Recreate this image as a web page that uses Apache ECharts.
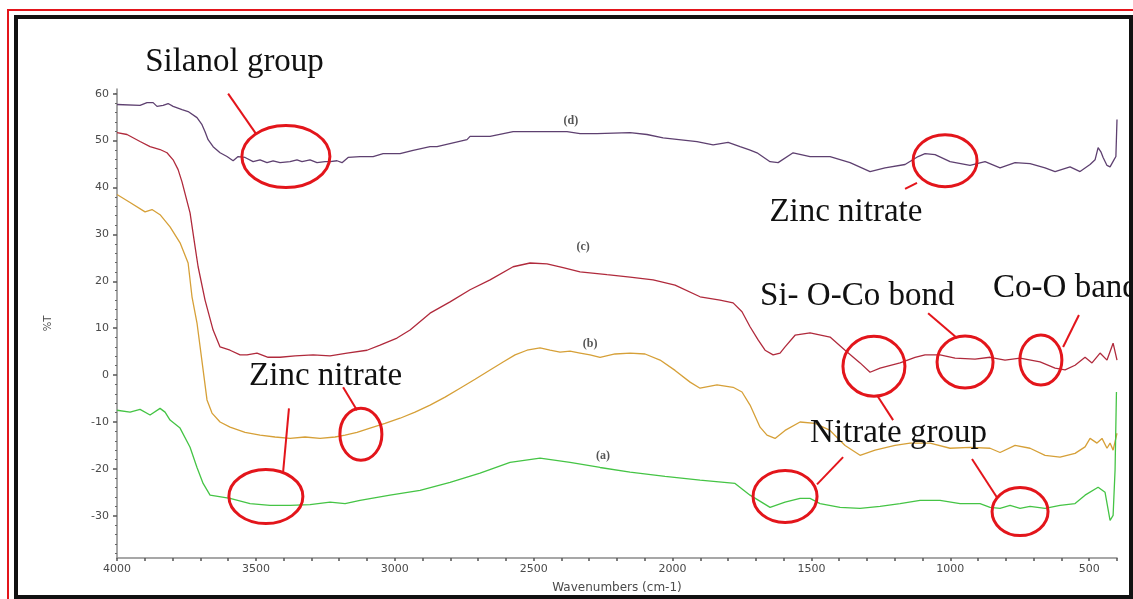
<!DOCTYPE html>
<html>
<head>
<meta charset="utf-8">
<title>FTIR spectra (a)–(d)</title>
<script src="https://cdn.jsdelivr.net/npm/echarts@6/dist/echarts.min.js"></script>
<style>
  html, body { margin: 0; padding: 0; background: #fff; }
  #chart { width: 1133px; height: 599px; }
</style>
</head>
<body>
<div id="chart"></div>
<script>
// ---- Spectra: wavenumber (cm-1) and transmittance (%T) per sample ----
const waveD = [4000,3996,3917,3892,3870,3856,3834,3816,3798,3766,3744,3712,3694,3683,3672,3654,3629,3604,3582,3564,3539,3510,3485,3460,3438,3413,3377,3352,3334,3305,3280,3251,3233,3208,3190,3168,3125,3078,3042,2981,2934,2873,2848,2740,2729,2657,2574,2466,2380,2333,2272,2153,2092,2034,1912,1854,1800,1757,1723,1696,1649,1620,1566,1505,1433,1361,1289,1235,1163,1116,1091,1055,1001,929,875,821,767,713,659,623,569,533,497,479,468,458,450,436,425,411,404,400];
const tD    = [57.7,57.7,57.5,58.1,58.1,57.3,57.5,57.9,57.3,56.6,56.2,54.9,53.4,51.9,50.2,48.7,47.4,46.6,45.7,46.6,46.4,45.5,45.9,45.3,45.7,45.3,45.5,45.9,45.5,45.9,45.3,45.5,45.5,45.7,45.3,46.4,46.6,46.6,47.2,47.2,47.9,48.7,48.7,50.2,50.9,50.9,51.9,51.9,51.9,51.5,51.5,51.7,51.3,50.6,49.8,49.1,49.6,48.7,48.0,47.4,45.5,45.3,47.4,46.6,46.6,45.3,43.4,44.2,44.9,46.6,47.2,47.0,45.5,44.7,45.5,44.2,45.3,45.1,44.2,43.4,44.4,43.4,44.9,45.9,48.5,47.6,46.4,44.7,44.4,45.9,46.6,54.5];

const waveC = [4000,3964,3917,3881,3845,3820,3798,3780,3766,3737,3719,3708,3683,3654,3629,3593,3557,3532,3496,3456,3413,3359,3294,3233,3172,3100,3053,2992,2945,2873,2801,2729,2657,2574,2513,2452,2394,2333,2236,2153,2070,1991,1901,1829,1782,1750,1721,1692,1667,1638,1613,1595,1559,1505,1433,1379,1325,1289,1253,1181,1127,1091,1037,983,911,857,803,749,677,623,587,551,515,490,461,436,414,400];
const tC    = [51.7,51.3,49.8,48.7,48.1,47.4,45.9,43.8,41.2,34.6,27.4,23.1,16.0,9.6,6.0,5.3,4.3,4.3,4.7,3.8,3.8,4.1,4.3,4.1,4.7,5.3,6.4,7.9,9.6,13.2,15.6,18.2,20.3,23.1,23.9,23.7,22.9,22.0,21.4,20.9,20.3,19.2,16.7,16.0,15.4,13.5,10.3,7.5,5.3,4.3,4.7,6.0,8.5,9.0,8.1,5.3,2.6,0.6,1.5,2.6,3.8,4.3,4.3,3.6,3.4,3.8,3.2,3.6,2.8,1.5,1.1,2.1,3.8,2.6,4.7,3.2,6.8,3.2];

const waveB = [4000,3953,3899,3874,3845,3809,3773,3744,3730,3712,3690,3676,3658,3629,3593,3539,3485,3431,3377,3323,3269,3215,3179,3136,3089,3035,2981,2927,2873,2819,2765,2711,2657,2610,2567,2524,2477,2441,2405,2369,2333,2297,2261,2207,2153,2099,2045,1991,1937,1901,1840,1782,1750,1721,1685,1660,1631,1595,1541,1487,1433,1379,1325,1271,1199,1145,1073,1001,929,857,821,767,713,659,605,551,515,497,472,454,436,425,414,400];
const tB    = [38.5,36.8,34.8,35.3,34.2,31.6,28.2,23.9,16.7,11.1,1.1,-5.3,-8.1,-10.0,-11.1,-12.2,-12.8,-13.2,-13.5,-13.2,-13.5,-13.2,-12.8,-12.2,-11.3,-10.3,-9.2,-7.9,-6.4,-4.7,-2.8,-0.9,1.1,2.8,4.3,5.3,5.8,5.3,4.9,5.1,4.7,4.3,3.8,4.5,4.7,4.5,3.2,1.0,-1.5,-2.8,-2.1,-2.6,-3.6,-6.4,-11.1,-12.8,-13.5,-11.8,-10.0,-10.3,-11.8,-15.0,-17.1,-16.0,-15.0,-14.5,-14.5,-15.6,-15.4,-15.6,-16.5,-15.0,-15.6,-17.1,-17.5,-16.7,-15.3,-13.5,-14.5,-13.5,-15.6,-14.5,-16.0,-12.4];

const waveA = [4000,3953,3917,3881,3845,3827,3809,3773,3737,3712,3690,3665,3593,3521,3449,3377,3305,3233,3179,3125,3017,2909,2801,2693,2585,2477,2369,2261,2153,2027,1901,1775,1721,1649,1595,1541,1505,1469,1397,1325,1253,1181,1109,1037,965,893,857,821,785,749,713,659,605,551,515,468,443,425,414,407,402];
const tA    = [-7.5,-7.9,-7.3,-8.5,-7.1,-7.9,-9.6,-11.3,-15.4,-19.7,-23.1,-25.6,-26.3,-27.4,-27.8,-27.8,-27.6,-27.1,-27.4,-26.7,-25.6,-24.6,-22.9,-20.9,-18.6,-17.7,-18.6,-19.7,-20.7,-21.6,-22.4,-23.1,-25.6,-28.2,-27.1,-26.3,-26.3,-27.4,-28.2,-28.4,-28.0,-27.4,-26.7,-26.7,-27.4,-27.4,-28.2,-28.4,-27.8,-28.4,-28.0,-28.4,-27.8,-27.4,-25.6,-23.9,-25.0,-31.0,-29.9,-20.3,-3.6];

// ---- Axis ticks ----
const xTickLabels = [4000,3500,3000,2500,2000,1500,1000,500];
const xTicks = [4000,3900,3800,3700,3600,3500,3400,3300,3200,3100,3000,2900,2800,2700,2600,2500,2400,2300,2200,2100,2000,1900,1800,1700,1600,1500,1400,1300,1200,1100,1000,900,800,700,600,500,400];
const yTickLabels = [-30,-20,-10,0,10,20,30,40,50,60];
const yMinorTicks = [-38,-36,-34,-32,-28,-26,-24,-22,-18,-16,-14,-12,-8,-6,-4,-2,2,4,6,8,12,14,16,18,22,24,26,28,32,34,36,38,42,44,46,48,52,54,56,58,60];

// ---- Band annotations (anchored in wavenumber / %T) ----
const sampleTags = [
  { text: '(d)', at: [2366, 54.3] },
  { text: '(c)', at: [2322, 27.4] },
  { text: '(b)', at: [2297, 6.6] },
  { text: '(a)', at: [2250, -17.3] }
];
const bandRings = [
  { at: [3392, 46.6], rx: 44, ry: 31 },   // silanol
  { at: [1019, 45.7], rx: 32, ry: 26 },   // zinc nitrate on (d)
  { at: [1275, 1.9],  rx: 31, ry: 30 },   // nitrate on (c)
  { at: [947, 2.8],   rx: 28, ry: 26 },   // Si-O-Co
  { at: [674, 3.2],   rx: 21, ry: 25 },   // Co-O
  { at: [1595, -25.9], rx: 32, ry: 26 },  // nitrate on (a)
  { at: [749, -29.1], rx: 28, ry: 24 },   // nitrate on (a)
  { at: [3464, -25.9], rx: 37, ry: 27 },  // zinc nitrate on (a)
  { at: [3122, -12.6], rx: 21, ry: 26 }   // zinc nitrate on (b)
];
const bandLeaders = [
  [[3600, 60.0], [3500, 51.5]],
  [[1163, 39.7], [1120, 41.0]],
  [[1080, 13.2], [976, 7.9]],
  [[537, 12.8], [594, 6.0]],
  [[1264, -4.3], [1206, -9.6]],
  [[1386, -17.5], [1480, -23.3]],
  [[922, -17.9], [832, -26.1]],
  [[3381, -7.1], [3402, -20.7]],
  [[3186, -2.6], [3136, -7.5]]
];
const bandNotes = [
  { text: 'Silanol group', at: [3577, 66.7], align: 'center' },
  { text: 'Zinc nitrate',  at: [1376, 34.6], align: 'center' },
  { text: 'Si- O-Co bond', at: [1685, 16.9], align: 'left' },
  { text: 'Co-O band',     at: [846, 18.6],  align: 'left' },
  { text: 'Nitrate group', at: [1505, -12.4], align: 'left' },
  { text: 'Zinc nitrate',  at: [3249, -0.2], align: 'center' }
];

const zip = (xs, ys) => xs.map((x, i) => [x, ys[i]]);

const chart = echarts.init(document.getElementById('chart'), null, { renderer: 'canvas' });

const axisGray = '#8a8a8a';
const labelStyle = { color: '#4a4a4a', fontFamily: 'DejaVu Sans', fontSize: 11 };
const plain = (v) => String(v);

const lineSeries = (name, data, color) => ({
  name, type: 'line', data, showSymbol: false, symbol: 'none',
  lineStyle: { color, width: 1.3 }, silent: true, animation: false
});

chart.setOption({
  animation: false,
  backgroundColor: '#ffffff',
  grid: { left: 117, right: 16, top: 89, bottom: 41, containLabel: false },
  xAxis: {
    type: 'value', inverse: true, min: 400, max: 4000,
    name: 'Wavenumbers (cm-1)', nameLocation: 'middle', nameGap: 24,
    nameTextStyle: { color: '#4a4a4a', fontFamily: 'DejaVu Sans', fontSize: 12 },
    axisLine: { onZero: false, lineStyle: { color: axisGray, width: 1.5 } },
    axisTick: { show: true, length: 3, customValues: xTicks, lineStyle: { color: '#555', width: 1.5 } },
    axisLabel: Object.assign({ customValues: xTickLabels, margin: 6, formatter: plain }, labelStyle),
    splitLine: { show: false }
  },
  yAxis: [{
    type: 'value', min: -39, max: 61,
    name: '%T', nameLocation: 'middle', nameGap: 64, nameRotate: 90,
    nameTextStyle: { color: '#4a4a4a', fontFamily: 'DejaVu Sans', fontSize: 10 },
    axisLine: { show: true, onZero: false, lineStyle: { color: axisGray, width: 1.5 } },
    axisTick: { show: true, length: 4, customValues: yTickLabels, lineStyle: { color: '#555', width: 1.5 } },
    axisLabel: Object.assign({ customValues: yTickLabels, margin: 8, formatter: plain }, labelStyle),
    splitLine: { show: false }
  }, {
    type: 'value', min: -39, max: 61, position: 'left',
    axisLine: { show: false, onZero: false },
    axisTick: { show: true, length: 2, customValues: yMinorTicks, lineStyle: { color: '#666', width: 1.2 } },
    axisLabel: { show: false },
    splitLine: { show: false }
  }],
  series: [
    lineSeries('(d)', zip(waveD, tD), '#5e4070'),
    lineSeries('(c)', zip(waveC, tC), '#b02a3c'),
    lineSeries('(b)', zip(waveB, tB), '#d6a038'),
    lineSeries('(a)', zip(waveA, tA), '#45c445')
  ]
});

// Overlay: sample tags, red band rings, leader lines, notes, and the page frame
const toPx = (p) => chart.convertToPixel({ xAxisIndex: 0, yAxisIndex: 0 }, p);
const red = '#e3151b';
const graphics = [];

sampleTags.forEach(t => {
  const [x, y] = toPx(t.at);
  graphics.push({ type: 'text', x, y, z: 20, style: {
    text: t.text, fill: '#555', fontFamily: 'Liberation Serif', fontSize: 12, fontWeight: 'bold',
    align: 'center', verticalAlign: 'middle', textAlign: 'center', textVerticalAlign: 'middle' } });
});
bandRings.forEach(r => {
  const [cx, cy] = toPx(r.at);
  graphics.push({ type: 'ellipse', z: 30, shape: { cx, cy, rx: r.rx, ry: r.ry },
    style: { fill: 'none', stroke: red, lineWidth: 3 } });
});
bandLeaders.forEach(seg => {
  const [x1, y1] = toPx(seg[0]);
  const [x2, y2] = toPx(seg[1]);
  graphics.push({ type: 'line', z: 30, shape: { x1, y1, x2, y2 },
    style: { stroke: red, lineWidth: 2 } });
});
bandNotes.forEach(n => {
  const [x, y] = toPx(n.at);
  graphics.push({ type: 'text', x, y, z: 40, style: {
    text: n.text, fill: '#111', fontFamily: 'Liberation Serif', fontSize: 33,
    align: n.align, verticalAlign: 'middle', textAlign: n.align, textVerticalAlign: 'middle' } });
});
// double frame: thin red outer rule and heavy black inner rule
graphics.push({ type: 'rect', z: 100, shape: { x: 8, y: 10, width: 1160, height: 620 },
  style: { fill: 'none', stroke: '#e3151b', lineWidth: 2 } });
graphics.push({ type: 'rect', z: 100, shape: { x: 16, y: 17, width: 1115, height: 580 },
  style: { fill: 'none', stroke: '#111', lineWidth: 4 } });

chart.setOption({ graphic: { elements: graphics } });
</script>
</body>
</html>
